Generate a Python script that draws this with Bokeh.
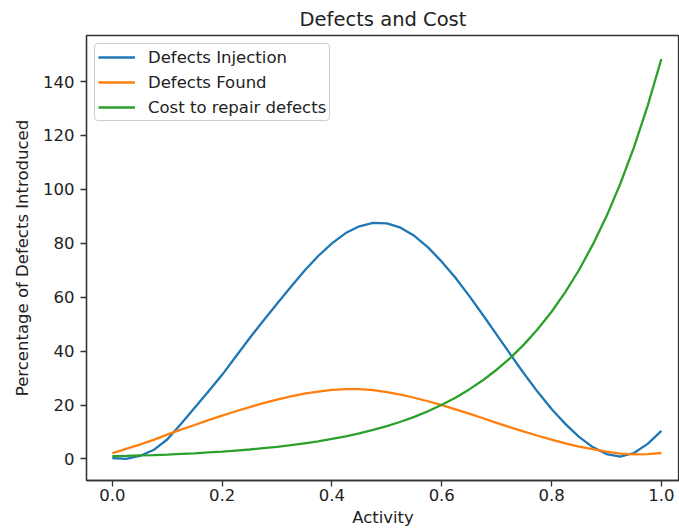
from bokeh.plotting import figure
from bokeh.models import Range1d, FixedTicker, Legend, LegendItem, PrintfTickFormatter
from bokeh.embed import file_html
from bokeh.resources import INLINE

activity = [0.000, 0.025, 0.050, 0.075, 0.100, 0.125, 0.150, 0.175, 0.200, 0.225,
            0.250, 0.275, 0.300, 0.325, 0.350, 0.375, 0.400, 0.425, 0.450, 0.475,
            0.500, 0.525, 0.550, 0.575, 0.600, 0.625, 0.650, 0.675, 0.700, 0.725,
            0.750, 0.775, 0.800, 0.825, 0.850, 0.875, 0.900, 0.925, 0.950, 0.975, 1.000]

defects_injection = [0.3, 0.0, 1.1, 3.3, 7.2, 13.0, 19.0, 25.0, 31.2, 38.0,
                     44.8, 51.3, 57.6, 63.8, 69.8, 75.3, 80.0, 83.8, 86.3, 87.6,
                     87.4, 85.8, 82.8, 78.5, 73.2, 67.2, 60.5, 53.4, 46.1, 38.8,
                     31.6, 24.8, 18.5, 13.0, 8.2, 4.4, 1.8, 0.9, 2.2, 5.6, 10.4]

defects_found = [2.1, 3.7, 5.3, 7.1, 9.0, 10.9, 12.6, 14.4, 16.1, 17.7,
                 19.2, 20.7, 22.0, 23.2, 24.2, 25.0, 25.6, 25.9, 25.9, 25.5,
                 24.8, 23.9, 22.7, 21.4, 20.0, 18.4, 16.8, 15.1, 13.4, 11.7,
                 10.1, 8.6, 7.2, 5.8, 4.6, 3.6, 2.7, 2.0, 1.7, 1.8, 2.2]

repair_cost = [1.0, 1.1, 1.3, 1.4, 1.6, 1.9, 2.1, 2.4, 2.7, 3.1,
               3.5, 4.0, 4.5, 5.1, 5.8, 6.5, 7.4, 8.4, 9.5, 10.8,
               12.2, 13.8, 15.6, 17.7, 20.1, 22.7, 25.8, 29.2, 33.1, 37.5,
               42.5, 48.2, 54.6, 61.9, 70.1, 79.5, 90.0, 102.0, 115.6, 131.0, 148.4]

series_labels = ["Defects Injection", "Defects Found", "Cost to repair defects"]
x_ticks = [0.0, 0.2, 0.4, 0.6, 0.8, 1.0]
y_ticks = [0, 20, 40, 60, 80, 100, 120, 140]

FONT = "DejaVu Sans"
FS = "16.5px"

p = figure(width=679, height=530, output_backend="svg", toolbar_location=None,
           x_range=Range1d(-0.047, 1.033), y_range=Range1d(-8.0, 157.1),
           min_border_left=86, min_border_right=0, min_border_top=33, min_border_bottom=50,
           title="Defects and Cost")

p.title.text_font = FONT
p.title.text_font_size = "19.5px"
p.title.text_font_style = "normal"
p.title.align = "center"
p.title.text_color = "#222222"

p.xgrid.visible = False
p.ygrid.visible = False
p.outline_line_color = "#333333"
p.outline_line_width = 1.3
p.background_fill_color = "white"
p.border_fill_color = "white"

for ax in (p.xaxis[0], p.yaxis[0]):
    ax.major_label_text_font = FONT
    ax.major_label_text_font_size = FS
    ax.major_label_text_color = "#222222"
    ax.axis_label_text_font = FONT
    ax.axis_label_text_font_size = FS
    ax.axis_label_text_font_style = "normal"
    ax.axis_label_text_color = "#222222"
    ax.axis_line_color = "#333333"
    ax.axis_line_width = 1.3
    ax.major_tick_line_color = "#333333"
    ax.major_tick_line_width = 1.3
    ax.major_tick_out = 6
    ax.major_tick_in = 0
    ax.minor_tick_line_color = None

p.xaxis[0].ticker = FixedTicker(ticks=x_ticks)
p.xaxis[0].formatter = PrintfTickFormatter(format="%.1f")
p.xaxis[0].axis_label = "Activity"
p.xaxis[0].major_label_standoff = 2
p.xaxis[0].axis_label_standoff = 4

p.yaxis[0].ticker = FixedTicker(ticks=y_ticks)
p.yaxis[0].axis_label = "Percentage of Defects Introduced"
p.yaxis[0].major_label_standoff = 6
p.yaxis[0].axis_label_standoff = 8

colors = ["#1f77b4", "#ff7f0e", "#2ca02c"]
r1 = p.line(activity, defects_injection, line_color=colors[0], line_width=2.3)
r2 = p.line(activity, defects_found, line_color=colors[1], line_width=2.3)
r3 = p.line(activity, repair_cost, line_color=colors[2], line_width=2.3)

legend = Legend(items=[LegendItem(label=series_labels[0], renderers=[r1]),
                       LegendItem(label=series_labels[1], renderers=[r2]),
                       LegendItem(label=series_labels[2], renderers=[r3])],
                location="top_left")
legend.label_text_font = FONT
legend.label_text_font_size = FS
legend.label_text_color = "#222222"
legend.glyph_width = 37
legend.glyph_height = 20
legend.label_height = 20
legend.spacing = 5
legend.padding = 3
legend.margin = 8
legend.label_standoff = 13
legend.border_line_color = "#cccccc"
legend.border_line_alpha = 1.0
legend.border_radius = 4
legend.background_fill_alpha = 0.8
p.add_layout(legend)

open("out.html", "w").write(file_html(p, INLINE))
